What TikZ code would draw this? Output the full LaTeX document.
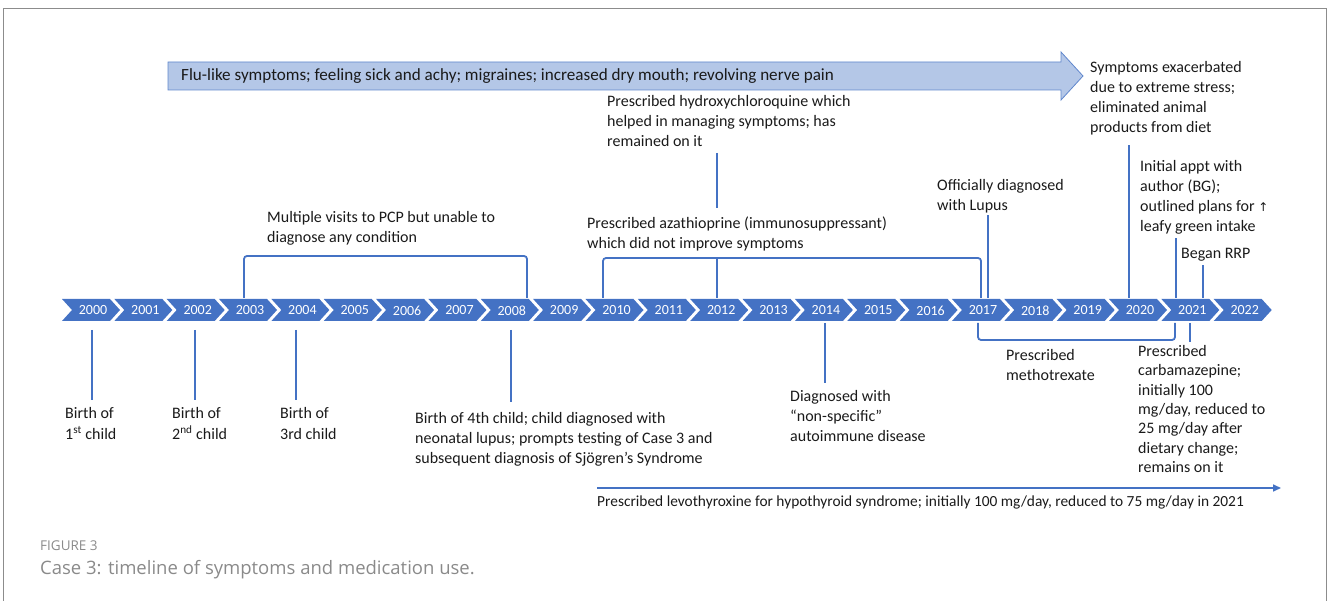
\documentclass[tikz,border=0pt]{standalone}
\usepackage{fontspec}
\setmainfont{Carlito}
\newfontfamily\capfont{Open Sans}
\newfontfamily\symf{DejaVu Sans}
\usetikzlibrary{arrows.meta}
\definecolor{obl}{HTML}{4472C4}
\definecolor{lbl}{HTML}{B4C7E7}
\definecolor{frm}{HTML}{8C8C8C}
\definecolor{capg}{HTML}{8A8A8A}
\definecolor{txt}{HTML}{1A1A1A}
\begin{document}
\begin{tikzpicture}[x=1pt,y=-1pt,
  conn/.style={draw=obl, line width=1.8pt},
  lab/.style={anchor=north west, inner sep=0pt, align=left, font=\fontsize{16}{20}\selectfont, text=txt},
  labc/.style={lab, font=\fontsize{16}{19.4}\selectfont},
  yr/.style={text=white, font=\fontsize{14}{14}\selectfont, inner sep=0pt},
  chev/.style={fill=obl, draw=none},
]
\useasboundingbox (0,0) rectangle (1328,601);
\draw[frm, line width=1pt] (3,601) -- (3,9) -- (1326,9) -- (1326,601);

% top arrow
\draw[fill=lbl, draw=obl!85, line width=0.8pt] (168,62) -- (1061,62) -- (1061,52) -- (1083,76) -- (1061,100) -- (1061,90) -- (168,90) -- cycle;
\node[anchor=west, inner sep=0pt, font=\fontsize{17.1}{21}\selectfont, text=txt] (flu) at (181,76) {Flu-like symptoms; feeling sick and achy; migraines; increased dry mouth; revolving nerve pain};

% chevrons
\foreach \i in {0,...,22} {
  \pgfmathsetmacro\xo{62+52.35*\i}
  \pgfmathtruncatemacro\yy{2000+\i}
  \fill[chev] (\xo,299) -- ++(48,0) -- ++(10,11) -- ++(-10,11) -- ++(-48,0) -- ++(10,-11) -- cycle;
  \node[yr] (y\yy) at ({\xo+31},310.5) {\yy};
}

% below: births
\coordinate (p0a) at (92,330); \coordinate (p0b) at (92,400);
\draw[conn] (p0a) -- (p0b);
\node[lab, font=\fontsize{16}{21}\selectfont] (l0) at (65,407) {Birth of\\1\textsuperscript{st} child};
\coordinate (p2a) at (195,330); \coordinate (p2b) at (195,400);
\draw[conn] (p2a) -- (p2b);
\node[lab, font=\fontsize{16}{21}\selectfont] (l2) at (172,407) {Birth of\\2\textsuperscript{nd} child};
\coordinate (p4a) at (296,330); \coordinate (p4b) at (296,400);
\draw[conn] (p4a) -- (p4b);
\node[lab, font=\fontsize{16}{21}\selectfont] (l4) at (280,407) {Birth of\\3rd child};
\coordinate (p8a) at (511,330); \coordinate (p8b) at (511,402);
\draw[conn] (p8a) -- (p8b);
\node[lab] (l8) at (415,412) {Birth of 4th child; child diagnosed with\\neonatal lupus; prompts testing of Case 3 and\\subsequent diagnosis of Sjögren’s Syndrome};
\coordinate (p14a) at (825,323); \coordinate (p14b) at (825,383);
\draw[conn] (p14a) -- (p14b);
\node[lab] (l14) at (790,390) {Diagnosed with\\“non-specific”\\autoimmune disease};

% methotrexate bracket
\coordinate (m1) at (978,323); \coordinate (m2) at (978,340);
\coordinate (m3) at (1175,340); \coordinate (m4) at (1175,323);
\draw[conn, rounded corners=3pt] (m1) -- (m2) -- (m3) -- (m4);
\node[lab] (lm) at (1006,349) {Prescribed\\methotrexate};

% carbamazepine
\coordinate (c1) at (1190,323); \coordinate (c2) at (1190,342);
\draw[conn] (c1) -- (c2);
\node[labc] (lc) at (1138,345) {Prescribed\\carbamazepine;\\initially 100\\mg/day, reduced to\\25 mg/day after\\dietary change;\\remains on it};

% levothyroxine
\coordinate (t1) at (597,488); \coordinate (t2) at (1281,488);
\draw[conn, line width=1.6pt, -{Triangle[length=8pt,width=7pt]}] (t1) -- (t2);
\node[lab, font=\fontsize{15.4}{20}\selectfont] (lt) at (597,496) {Prescribed levothyroxine for hypothyroid syndrome; initially 100 mg/day, reduced to 75 mg/day in 2021};

% above: PCP bracket
\coordinate (q1) at (244,298); \coordinate (q2) at (244,256);
\coordinate (q3) at (527,256); \coordinate (q4) at (527,298);
\draw[conn, rounded corners=3pt] (q1) -- (q2) -- (q3) -- (q4);
\node[lab] (lq) at (267,211) {Multiple visits to PCP but unable to\\diagnose any condition};

% azathioprine bracket
\coordinate (r1) at (603,298); \coordinate (r2) at (603,258);
\coordinate (r3) at (981,258); \coordinate (r4) at (981,298);
\draw[conn, rounded corners=3pt] (r1) -- (r2) -- (r3) -- (r4);
\node[lab] (lr) at (587,217) {Prescribed azathioprine (immunosuppressant)\\which did not improve symptoms};

% hydroxychloroquine
\coordinate (h1) at (717,298); \coordinate (h4) at (717,258);
\coordinate (h3) at (717,208); \coordinate (h2) at (717,153);
\draw[conn] (h2) -- (h3);
\draw[conn] (h4) -- (h1);
\node[lab] (lh) at (607,95) {Prescribed hydroxychloroquine which\\helped in managing symptoms; has\\remained on it};

% lupus
\coordinate (u1) at (988,298); \coordinate (u2) at (988,215);
\draw[conn] (u1) -- (u2);
\node[lab] (lu) at (937,179) {Officially diagnosed\\with Lupus};

% 2020 exacerbation
\coordinate (e1) at (1129,298); \coordinate (e2) at (1129,145);
\draw[conn] (e1) -- (e2);
\node[lab] (le) at (1090,61) {Symptoms exacerbated\\due to extreme stress;\\eliminated animal\\products from diet};

% initial appt
\coordinate (i1) at (1176,298); \coordinate (i2) at (1176,238);
\draw[conn] (i1) -- (i2);
\node[lab] (li) at (1140,160) {Initial appt with\\author (BG);\\outlined plans for {\symf\fontsize{12}{12}\selectfont ↑}\\leafy green intake};

% RRP
\coordinate (g1) at (1203,298); \coordinate (g2) at (1203,265);
\draw[conn] (g1) -- (g2);
\node[lab] (lg) at (1181,248) {Began RRP};

% caption
\node[anchor=base west, inner sep=0pt, font=\capfont\fontsize{13.5}{13.5}\selectfont, text=capg] (fig) at (40,550) {FIGURE 3};
\node[anchor=base west, inner sep=0pt, font=\capfont\fontsize{18.5}{18.5}\selectfont, text=capg] (cap) at (40,574) {Case 3: timeline of symptoms and medication use.};
\end{tikzpicture}
\end{document}
